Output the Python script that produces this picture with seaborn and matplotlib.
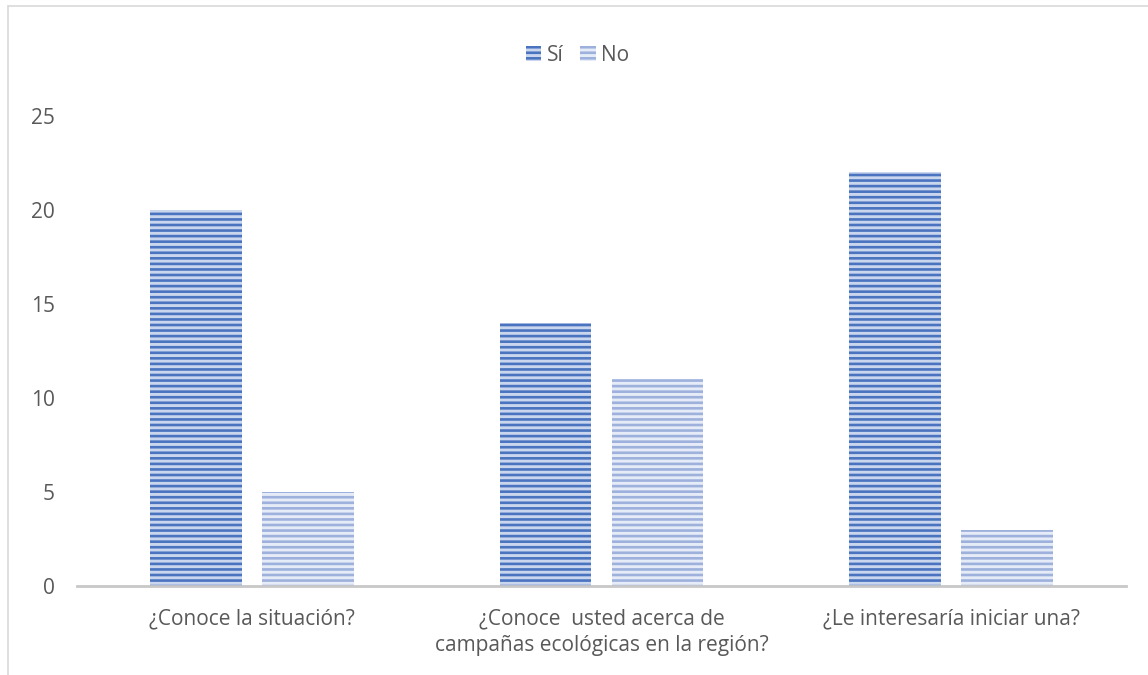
import matplotlib
matplotlib.use("Agg")
import matplotlib.pyplot as plt
from matplotlib.patches import Patch
from matplotlib.lines import Line2D
import pandas as pd
import seaborn as sns

preguntas = [
    "¿Conoce la situación?",
    "¿Conoce  usted acerca de\ncampañas ecológicas en la región?",
    "¿Le interesaría iniciar una?",
]
respuestas = ["Sí", "No"]
valores_si = [20, 14, 22]
valores_no = [5, 11, 3]
y_ticks = [0, 5, 10, 15, 20, 25]

df = pd.DataFrame({
    "pregunta": preguntas * 2,
    "respuesta": ["Sí"] * 3 + ["No"] * 3,
    "valor": valores_si + valores_no,
})

sns.set_theme(style="white")
plt.rcParams["font.family"] = ["Open Sans", "DejaVu Sans"]
plt.rcParams["hatch.linewidth"] = 1.9

stripe = {"Sí": "#4a74bf", "No": "#9db1dc"}
fill = {"Sí": "#c9d6ee", "No": "#e6ecf7"}
text_color = "#595959"
fs = 15

fig = plt.figure(figsize=(11.48, 6.75), dpi=100)
ax = fig.add_axes([0.067, 0.132, 0.914, 0.696])

sns.barplot(data=df, x="pregunta", y="valor", hue="respuesta",
            hue_order=respuestas, palette=fill, width=0.64, gap=0.18,
            legend=False, ax=ax, errorbar=None)

# striped fill: hatch drawn in the edge colour, edge line itself hidden
for container, resp in zip(ax.containers, respuestas):
    for bar in container:
        bar.set_facecolor(fill[resp])
        bar.set_edgecolor(stripe[resp])
        bar.set_linewidth(0)
        bar.set_hatch("---")

ax.set_ylim(0, 25)
ax.set_yticks(y_ticks)
ax.set_xlim(-0.5, 2.5)
ax.set_xlabel("")
ax.set_ylabel("")
ax.tick_params(axis="both", length=0, labelsize=fs, labelcolor=text_color)
ax.tick_params(axis="y", pad=16)
ax.tick_params(axis="x", pad=16)
for lbl in ax.get_xticklabels():
    lbl.set_linespacing(1.35)

for side in ["top", "right", "left"]:
    ax.spines[side].set_visible(False)
ax.spines["bottom"].set_color("#c8c8c8")
ax.spines["bottom"].set_linewidth(2.0)

handles = [Patch(facecolor=fill[r], edgecolor=stripe[r], hatch="---",
                 linewidth=0, label=r) for r in respuestas]
fig.legend(handles=handles, loc="center", bbox_to_anchor=(0.503, 0.918),
           ncol=2, frameon=False, fontsize=fs, labelcolor=text_color,
           handlelength=0.75, handleheight=0.75, handletextpad=0.25,
           columnspacing=0.8)

# thin chart-area border along the top and left
fig.add_artist(Line2D([8 / 1148, 1], [1 - 6 / 675, 1 - 6 / 675],
                      transform=fig.transFigure, color="#d9d9d9", lw=1.2))
fig.add_artist(Line2D([8 / 1148, 8 / 1148], [0, 1 - 6 / 675],
                      transform=fig.transFigure, color="#d9d9d9", lw=1.2))

fig.savefig("out.png", dpi=100, facecolor="white")
